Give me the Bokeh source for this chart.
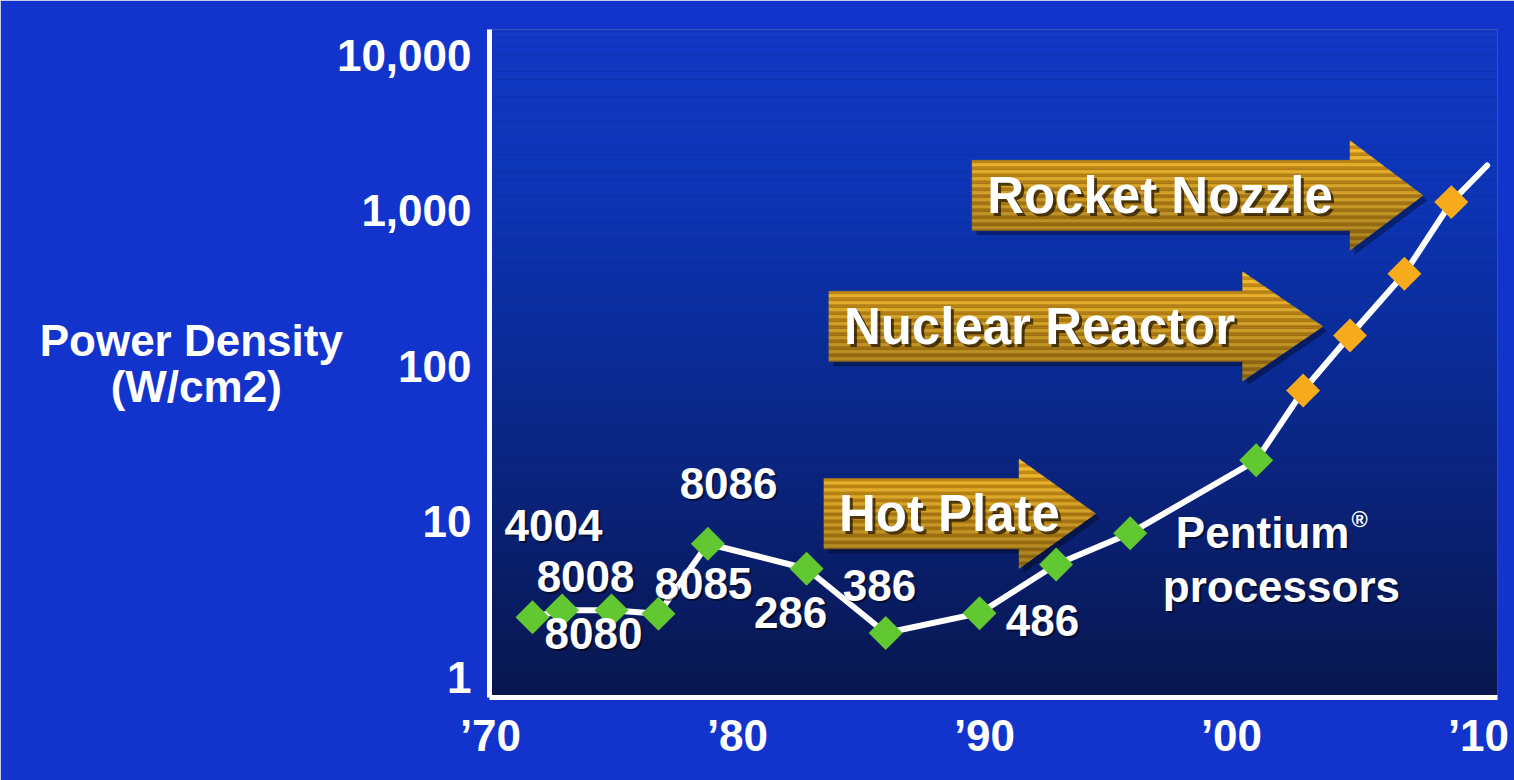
import numpy as np
from bokeh.plotting import figure
from bokeh.models import ColumnDataSource, FixedTicker
from bokeh.core.properties import value
from bokeh.embed import file_html
from bokeh.resources import INLINE

# ---------------- data ----------------
green_years = [1971.7, 1972.9, 1974.9, 1976.8, 1978.8, 1982.8, 1986.0, 1989.8, 1992.9, 1995.9, 2001.0]
green_density = [2.44, 2.70, 2.70, 2.57, 7.24, 5.0, 1.93, 2.59, 5.33, 8.47, 24.9]
orange_years = [2002.9, 2004.8, 2007.0, 2008.9]
orange_density = [70, 158, 395, 1140]
trend_end_year = [2010.35]
trend_end_density = [1960]

chip_labels = ["4004", "8008", "8080", "8085", "8086", "286", "386", "486", "Pentium", "processors"]
chip_label_x = [1972.55, 1973.85, 1974.17, 1978.62, 1979.64, 1982.15, 1985.75, 1992.35, 2001.26, 2002.02]
chip_label_y = [9.49, 4.46, 1.92, 4.02, 17.7, 2.62, 3.90, 2.33, 8.56, 3.85]

arrow_names = ["Rocket Nozzle", "Nuclear Reactor", "Hot Plate"]
arrow_start = [1989.5, 1983.7, 1983.5]
arrow_head = [2004.8, 2000.45, 1991.4]
arrow_tip = [2007.75, 2003.7, 1994.5]
arrow_level = [1258, 181, 11.3]

x_ticks = [1970, 1980, 1990, 2000, 2010]
x_tick_labels = ["\u201970", "\u201980", "\u201990", "\u201900", "\u201910"]
y_ticks = [1, 10, 100, 1000, 10000]
y_tick_labels = ["1", "10", "100", "1,000", "10,000"]
y_title_lines = ["Power Density", "(W/cm2)"]

FONT = "Liberation Sans"
FS = "44px"
X0, X1 = 1969.96, 2010.77
LY0, LY1 = -0.129, 4.167

p = figure(width=1514, height=780, x_range=(X0, X1), y_range=(10 ** LY0, 10 ** LY1),
           y_axis_type="log", output_backend="svg", toolbar_location=None,
           min_border_left=489, min_border_right=17, min_border_top=29, min_border_bottom=83)
p.border_fill_color = "#1233cc"
p.background_fill_color = "#0a2278"
p.outline_line_color = None
p.grid.visible = False

# ---- plot-area vertical gradient (background) ----
stops_l = [LY0, 1.138, 2.103, 3.067, LY1]
stops_c = [(8, 22, 76), (10, 34, 120), (10, 44, 152), (12, 52, 180), (18, 56, 196)]
n = 80
edges = np.linspace(LY0, LY1, n + 1)
mids = 0.5 * (edges[:-1] + edges[1:])
cols = []
for m in mids:
    rgb = [np.interp(m, stops_l, [c[k] for c in stops_c]) for k in range(3)]
    cols.append("#%02x%02x%02x" % tuple(int(round(v)) for v in rgb))
p.quad(left=X0, right=X1, bottom=10 ** edges[:-1], top=10 ** edges[1:] * 1.001,
       fill_color=cols, line_color=None)

# ---- arrows ----
BH, HH = 0.226, 0.352   # half heights (decades) of body and head
STRIPE = 0.0225
def right_x(d, head, tip):
    return head + (tip - head) * (1 - abs(d) / HH)

for name, s, h, t, lvl in zip(arrow_names, arrow_start, arrow_head, arrow_tip, arrow_level):
    c = np.log10(lvl)
    dx, dy = 0.18, -0.03
    sx = [s, h, h, t, h, h, s]
    sy = [c + BH, c + BH, c + HH, c, c - HH, c - BH, c - BH]
    p.patch([v + dx for v in sx], [10 ** (v + dy) for v in sy], fill_color="black",
            fill_alpha=0.35, line_color=None)
    grid = list(np.arange(-HH, HH + 1e-9, STRIPE)) + [-BH, BH, 0.0, HH]
    grid = sorted(set(round(g, 6) for g in grid if -HH <= g <= HH))
    xs, ys, fc = [], [], []
    for d0, d1 in zip(grid[:-1], grid[1:]):
        if d1 - d0 < 1e-6:
            continue
        mid = 0.5 * (d0 + d1)
        left = s if abs(mid) <= BH else h
        xs.append([left, right_x(d0, h, t), right_x(d1, h, t), left])
        ys.append([10 ** (c + d0), 10 ** (c + d0), 10 ** (c + d1), 10 ** (c + d1)])
        idx = int(np.floor((mid + HH) / STRIPE))
        depth = (HH - mid) / (2 * HH)  # 0 top, 1 bottom
        base = (236, 180, 44) if idx % 2 == 0 else (194, 136, 20)
        f = 1.06 - 0.36 * depth
        rgb = tuple(max(0, min(255, int(b * f))) for b in base)
        fc.append("#%02x%02x%02x" % rgb)
    p.patches(xs, ys, fill_color=fc, line_color=fc, line_width=0.5)
    p.text(x=[s], y=[lvl], text=[name], x_offset=18, y_offset=3, text_font=value(FONT),
           text_font_style="bold", text_font_size=value("51px"), text_color="#1a1000",
           text_alpha=0.7, text_align="left", text_baseline="middle")
    p.text(x=[s], y=[lvl], text=[name], x_offset=15, y_offset=0, text_font=value(FONT),
           text_font_style="bold", text_font_size=value("51px"), text_color="white",
           text_align="left", text_baseline="middle")

# ---- trend line and markers ----
line_x = green_years + orange_years + trend_end_year
line_y = green_density + orange_density + trend_end_density
p.line(line_x, line_y, line_color="white", line_width=6, line_join="round", line_cap="round")
p.scatter(green_years, green_density, marker="square", angle=np.pi / 4, size=24,
          fill_color="#62c832", line_color=None)
p.scatter(orange_years, orange_density, marker="square", angle=np.pi / 4, size=24,
          fill_color="#f7aa1c", line_color=None)

# ---- chip labels ----
src = ColumnDataSource(dict(x=chip_label_x, y=chip_label_y, t=chip_labels))
p.text(x="x", y="y", text="t", source=src, x_offset=2, y_offset=2, text_font=value(FONT),
       text_font_style="bold", text_font_size=value(FS), text_color="black", text_alpha=0.5,
       text_align="center", text_baseline="middle")
p.text(x="x", y="y", text="t", source=src, text_font=value(FONT),
       text_font_style="bold", text_font_size=value(FS), text_color="white",
       text_align="center", text_baseline="middle")
p.text(x=[chip_label_x[8]], y=[chip_label_y[8]], text=["\u00ae"], x_offset=89, y_offset=-13,
       text_font=value(FONT), text_font_style="bold", text_font_size=value("22px"),
       text_color="white", text_align="left", text_baseline="middle")

# ---- axes ----
for ax in (p.xaxis[0], p.yaxis[0]):
    ax.axis_line_color = "white"
    ax.axis_line_width = 5
    ax.major_tick_line_color = None
    ax.minor_tick_line_color = None
    ax.major_label_text_color = "white"
    ax.major_label_text_font = FONT
    ax.major_label_text_font_style = "bold"
    ax.major_label_text_font_size = FS
p.xaxis.ticker = FixedTicker(ticks=x_ticks)
p.xaxis.major_label_overrides = dict(zip(x_ticks, x_tick_labels))
p.xaxis.major_label_standoff = 7
p.yaxis.ticker = FixedTicker(ticks=y_ticks)
p.yaxis.major_label_overrides = dict(zip(y_ticks, y_tick_labels))
p.yaxis.major_label_standoff = 12

# second title line padded with no-break spaces so the two lines look centred
p.yaxis.axis_label = y_title_lines[0] + "\n" + y_title_lines[1] + "\u00a0" * 5
p.yaxis.axis_label_orientation = "horizontal"
p.yaxis.axis_label_standoff = -9
p.yaxis.axis_label_text_color = "white"
p.yaxis.axis_label_text_font = FONT
p.yaxis.axis_label_text_font_style = "bold"
p.yaxis.axis_label_text_font_size = FS
p.yaxis.axis_label_text_line_height = 0.95

open("out.html", "w").write(file_html(p, INLINE))
